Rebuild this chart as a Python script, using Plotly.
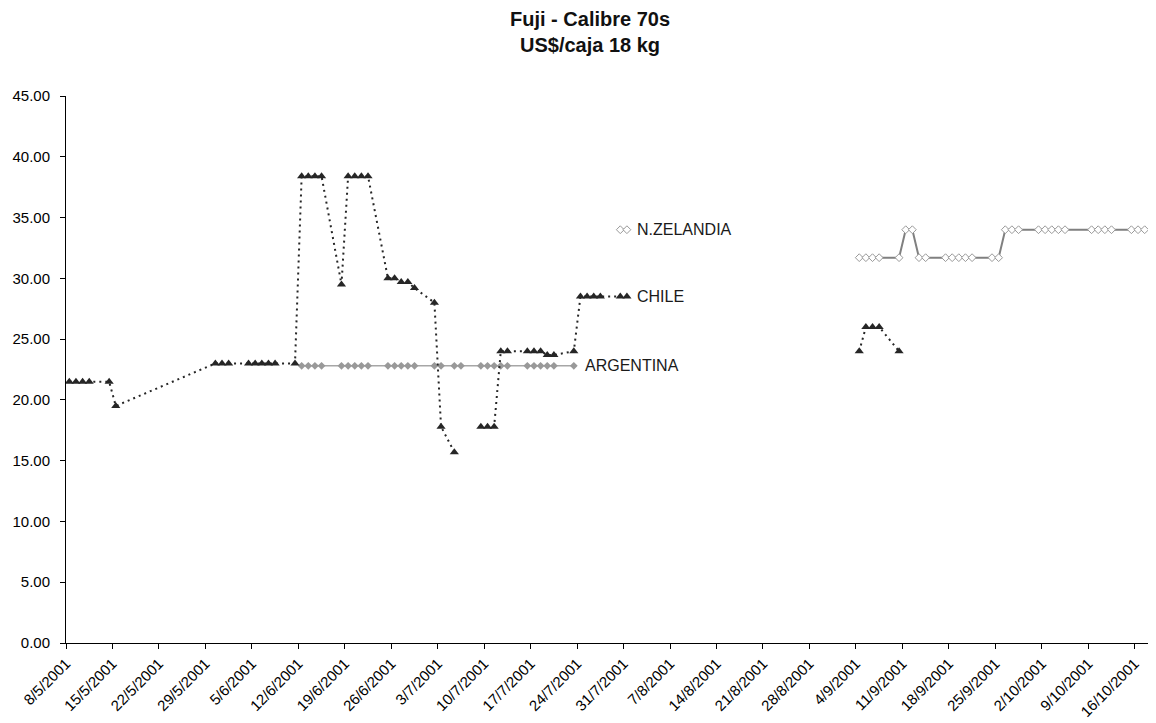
import pandas as pd
import plotly.graph_objects as go

# ---- data ----
CHILE_DATES = [
    "2001-05-08", "2001-05-09", "2001-05-10", "2001-05-11", "2001-05-14", "2001-05-15",
    "2001-05-30", "2001-05-31", "2001-06-01",
    "2001-06-04", "2001-06-05", "2001-06-06", "2001-06-07", "2001-06-08",
    "2001-06-11", "2001-06-12", "2001-06-13", "2001-06-14", "2001-06-15",
    "2001-06-18", "2001-06-19", "2001-06-20", "2001-06-21", "2001-06-22",
    "2001-06-25", "2001-06-26", "2001-06-27", "2001-06-28", "2001-06-29",
    "2001-07-02", "2001-07-03", "2001-07-05", "2001-07-06",
    "2001-07-09", "2001-07-10", "2001-07-11", "2001-07-12", "2001-07-13",
    "2001-07-16", "2001-07-17", "2001-07-18", "2001-07-19", "2001-07-20",
    "2001-07-23", "2001-07-24", "2001-07-25", "2001-07-26", "2001-07-27",
    "2001-07-30", "2001-07-31", "2001-08-01",
    "2001-09-04", "2001-09-05", "2001-09-06", "2001-09-07", "2001-09-10",
]
CHILE_VALUES = [
    21.5, 21.5, 21.5, 21.5, 21.5, 19.5,
    23.0, 23.0, 23.0,
    23.0, 23.0, 23.0, 23.0, 23.0,
    23.0, 38.4, 38.4, 38.4, 38.4,
    29.5, 38.4, 38.4, 38.4, 38.4,
    30.0, 30.0, 29.7, 29.7, 29.2,
    28.0, 17.8, 15.7, None,
    17.8, 17.8, 17.8, 24.0, 24.0,
    24.0, 24.0, 24.0, 23.7, 23.7,
    24.0, 28.5, 28.5, 28.5, 28.5,
    28.5, 28.5, None,
    24.0, 26.0, 26.0, 26.0, 24.0,
]

ARG_DATES = [
    "2001-06-12", "2001-06-13", "2001-06-14", "2001-06-15",
    "2001-06-18", "2001-06-19", "2001-06-20", "2001-06-21", "2001-06-22",
    "2001-06-25", "2001-06-26", "2001-06-27", "2001-06-28", "2001-06-29",
    "2001-07-02", "2001-07-03", "2001-07-05", "2001-07-06",
    "2001-07-09", "2001-07-10", "2001-07-11", "2001-07-12", "2001-07-13",
    "2001-07-16", "2001-07-17", "2001-07-18", "2001-07-19", "2001-07-20",
    "2001-07-23",
]
ARG_VALUES = [
    22.8, 22.8, 22.8, 22.8,
    22.8, 22.8, 22.8, 22.8, 22.8,
    22.8, 22.8, 22.8, 22.8, 22.8,
    22.8, 22.8, 22.8, 22.8,
    22.8, 22.8, 22.8, 22.8, 22.8,
    22.8, 22.8, 22.8, 22.8, 22.8,
    22.8,
]

NZ_DATES = [
    "2001-07-30", "2001-07-31", "2001-08-01",
    "2001-09-04", "2001-09-05", "2001-09-06", "2001-09-07",
    "2001-09-10", "2001-09-11", "2001-09-12", "2001-09-13", "2001-09-14",
    "2001-09-17", "2001-09-18", "2001-09-19", "2001-09-20", "2001-09-21",
    "2001-09-24", "2001-09-25", "2001-09-26", "2001-09-27", "2001-09-28",
    "2001-10-01", "2001-10-02", "2001-10-03", "2001-10-04", "2001-10-05",
    "2001-10-09", "2001-10-10", "2001-10-11", "2001-10-12",
    "2001-10-15", "2001-10-16", "2001-10-17",
]
NZ_VALUES = [
    34.0, 34.0, None,
    31.7, 31.7, 31.7, 31.7,
    31.7, 34.0, 34.0, 31.7, 31.7,
    31.7, 31.7, 31.7, 31.7, 31.7,
    31.7, 31.7, 34.0, 34.0, 34.0,
    34.0, 34.0, 34.0, 34.0, 34.0,
    34.0, 34.0, 34.0, 34.0,
    34.0, 34.0, 34.0,
]

TICK_DATES = pd.date_range("2001-05-08", "2001-10-16", freq="7D")
TICK_TEXT = [f"{d.day}/{d.month}/{d.year}" for d in TICK_DATES]

FONT = "Liberation Sans, Arial, sans-serif"

# the page body has an 8px margin, so the figure is 8px smaller than the window
W, H = 1148, 715
M_L, M_R, M_T, M_B = 58, 8, 88, 80
PLOT_H = H - M_T - M_B


def mid_day(dates):
    # Excel date axis puts each point in the middle of its day slot
    return [pd.Timestamp(d) + pd.Timedelta(hours=12) for d in dates]


fig = go.Figure()

fig.add_trace(go.Scatter(
    x=mid_day(ARG_DATES), y=ARG_VALUES, name="ARGENTINA",
    mode="lines+markers",
    line=dict(color="#a6a6a6", width=1.5),
    marker=dict(symbol="diamond", size=6, color="#999999", line=dict(width=0)),
))
fig.add_trace(go.Scatter(
    x=mid_day(NZ_DATES), y=NZ_VALUES, name="N.ZELANDIA",
    mode="lines+markers",
    line=dict(color="#808080", width=2),
    marker=dict(symbol="diamond", size=6, color="white",
                line=dict(width=1, color="#999999")),
))
fig.add_trace(go.Scatter(
    x=mid_day(CHILE_DATES), y=CHILE_VALUES, name="CHILE",
    mode="lines+markers",
    line=dict(color="#262626", width=2, dash="2px,4px"),
    marker=dict(symbol="triangle-up", size=8, color="#262626", line=dict(width=0)),
))

# series names written next to their last point, as in the original
for name, dates, vals, shift in [
    ("N.ZELANDIA", NZ_DATES[:2], NZ_VALUES[:2], 8),
    ("CHILE", CHILE_DATES[:50], CHILE_VALUES[:50], 8),
    ("ARGENTINA", ARG_DATES, ARG_VALUES, 9),
]:
    fig.add_annotation(
        x=mid_day(dates)[-1], y=vals[-1], text=name,
        showarrow=False, xanchor="left", yanchor="middle", xshift=shift,
        font=dict(family=FONT, size=16, color="#1a1a1a"),
    )

# two-line bold title
fig.add_annotation(
    text="<b>Fuji - Calibre 70s<br>US$/caja 18 kg</b>",
    xref="paper", yref="paper", x=0.4845, y=1 + 38 / PLOT_H,
    xanchor="center", yanchor="bottom", showarrow=False,
    font=dict(family=FONT, size=20, color="#111111"),
)

fig.update_layout(
    width=W, height=H,
    margin=dict(l=M_L, r=M_R, t=M_T, b=M_B, autoexpand=False),
    paper_bgcolor="white", plot_bgcolor="white",
    showlegend=False,
    font=dict(family=FONT, size=13, color="black"),
    xaxis=dict(
        type="date",
        range=["2001-05-08", "2001-10-18"],
        tickmode="array", tickvals=list(TICK_DATES), ticktext=TICK_TEXT,
        tickangle=-45, ticks="outside", ticklen=5, tickcolor="black",
        showline=True, linecolor="black", linewidth=1,
        showgrid=False, zeroline=False,
        tickfont=dict(family=FONT, size=15, color="black"),
    ),
    yaxis=dict(
        range=[0, 45], dtick=5, tickformat=".2f",
        ticks="outside", ticklen=5, tickcolor="black",
        showline=True, linecolor="black", linewidth=1,
        showgrid=False, zeroline=False, ticklabelstandoff=7,
        tickfont=dict(family=FONT, size=15, color="black"),
    ),
)

fig.write_html("out.html")
